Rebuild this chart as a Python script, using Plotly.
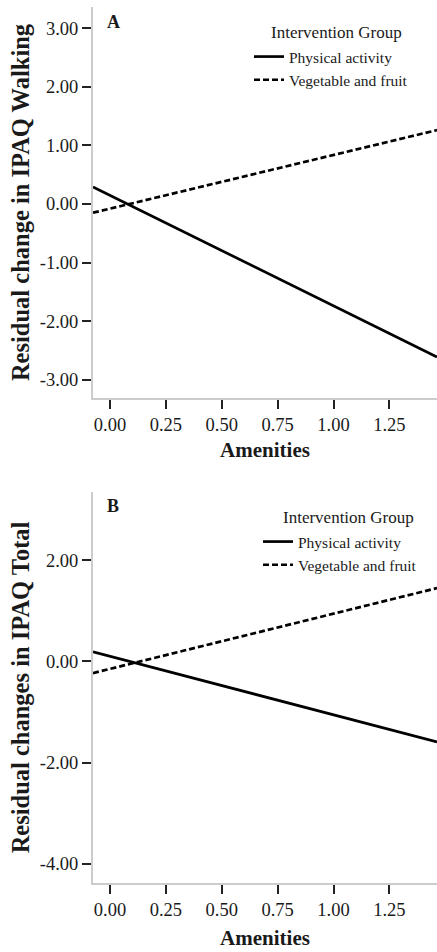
import plotly.graph_objects as go

# ---- data ----
x_ends = [-0.076, 1.463]
groups = ["Physical activity", "Vegetable and fruit"]
legend_title = "Intervention Group"

walk_pa = [0.29, -2.61]
walk_vf = [-0.15, 1.26]
total_pa = [0.19, -1.59]
total_vf = [-0.23, 1.45]

x_tickvals = [0.0, 0.25, 0.5, 0.75, 1.0, 1.25]
x_ticktext = ["0.00", "0.25", "0.50", "0.75", "1.00", "1.25"]
ya_tickvals = [-3, -2, -1, 0, 1, 2, 3]
ya_ticktext = ["-3.00", "-2.00", "-1.00", "0.00", "1.00", "2.00", "3.00"]
yb_tickvals = [-4, -2, 0, 2]
yb_ticktext = ["-4.00", "-2.00", "0.00", "2.00"]

FONT = "Liberation Serif"
TXT = "#1a1a1a"

W, H = 437, 952
L, R, T, B = 93, 0, 7, 69
PW, PH = W - L - R, H - T - B


def px_x(x):
    return (x - L) / PW


def px_y(y):
    return (H - B - y) / PH


fig = go.Figure()

# Panel A
fig.add_trace(go.Scatter(x=x_ends, y=walk_pa, mode="lines", name=groups[0],
                         line=dict(color="black", width=2.7),
                         xaxis="x", yaxis="y", legend="legend"))
fig.add_trace(go.Scatter(x=x_ends, y=walk_vf, mode="lines", name=groups[1],
                         line=dict(color="black", width=2.7, dash="6px,3px"),
                         xaxis="x", yaxis="y", legend="legend"))
# Panel B
fig.add_trace(go.Scatter(x=x_ends, y=total_pa, mode="lines", name=groups[0],
                         line=dict(color="black", width=2.7),
                         xaxis="x2", yaxis="y2", legend="legend2"))
fig.add_trace(go.Scatter(x=x_ends, y=total_vf, mode="lines", name=groups[1],
                         line=dict(color="black", width=2.7, dash="6px,3px"),
                         xaxis="x2", yaxis="y2", legend="legend2"))

axis_common = dict(showgrid=False, zeroline=False, showline=True,
                   linecolor="#cccccc", linewidth=2, ticks="outside",
                   tickcolor="#222222", tickwidth=1.5, ticklen=9,
                   tickfont=dict(family=FONT, size=18.5, color=TXT))

legend_common = dict(xanchor="left", yanchor="top", xref="paper", yref="paper",
                     bgcolor="rgba(0,0,0,0)", itemwidth=30, tracegroupgap=0,
                     font=dict(family=FONT, size=15.5, color=TXT))

fig.update_layout(
    width=W, height=H,
    margin=dict(l=L, r=R, t=T, b=B, autoexpand=False),
    paper_bgcolor="white", plot_bgcolor="white",
    font=dict(family=FONT, color=TXT),
    showlegend=True,
    xaxis=dict(domain=[0, 1], anchor="y", range=[-0.076, 1.463],
               tickvals=x_tickvals, ticktext=x_ticktext,
               title=dict(text="<b>Amenities</b>", font=dict(family=FONT, size=21, color=TXT), standoff=8),
               **axis_common),
    yaxis=dict(domain=[px_y(398), 1.0], anchor="x", range=[-3.31, 3.36],
               tickvals=ya_tickvals, ticktext=ya_ticktext,
               title=dict(text="<b>Residual change in IPAQ Walking</b>", font=dict(family=FONT, size=24.5, color=TXT), standoff=3),
               **axis_common),
    xaxis2=dict(domain=[0, 1], anchor="y2", range=[-0.076, 1.463],
                tickvals=x_tickvals, ticktext=x_ticktext,
                title=dict(text="<b>Amenities</b>", font=dict(family=FONT, size=21, color=TXT), standoff=11),
                **axis_common),
    yaxis2=dict(domain=[0.0, px_y(492)], anchor="x2", range=[-4.38, 3.35],
                tickvals=yb_tickvals, ticktext=yb_ticktext,
                title=dict(text="<b>Residual changes in IPAQ Total</b>", font=dict(family=FONT, size=24.5, color=TXT), standoff=3),
                **axis_common),
    legend=dict(x=px_x(249), y=px_y(40), **legend_common),
    legend2=dict(x=px_x(258), y=px_y(525), **legend_common),
    annotations=[
        dict(text="<b>A</b>", xref="paper", yref="paper", x=px_x(113), y=px_y(22),
             xanchor="center", yanchor="middle", showarrow=False,
             font=dict(family=FONT, size=18, color=TXT)),
        dict(text="<b>B</b>", xref="paper", yref="paper", x=px_x(113), y=px_y(506),
             xanchor="center", yanchor="middle", showarrow=False,
             font=dict(family=FONT, size=18, color=TXT)),
        dict(text=legend_title, xref="paper", yref="paper", x=px_x(336), y=px_y(33),
             xanchor="center", yanchor="middle", showarrow=False,
             font=dict(family=FONT, size=17, color=TXT)),
        dict(text=legend_title, xref="paper", yref="paper", x=px_x(348), y=px_y(517),
             xanchor="center", yanchor="middle", showarrow=False,
             font=dict(family=FONT, size=17, color=TXT)),
    ],
)

fig.write_html("out.html", config={"displayModeBar": False},
               post_script="document.body.style.margin='0';document.body.style.overflow='hidden';")
